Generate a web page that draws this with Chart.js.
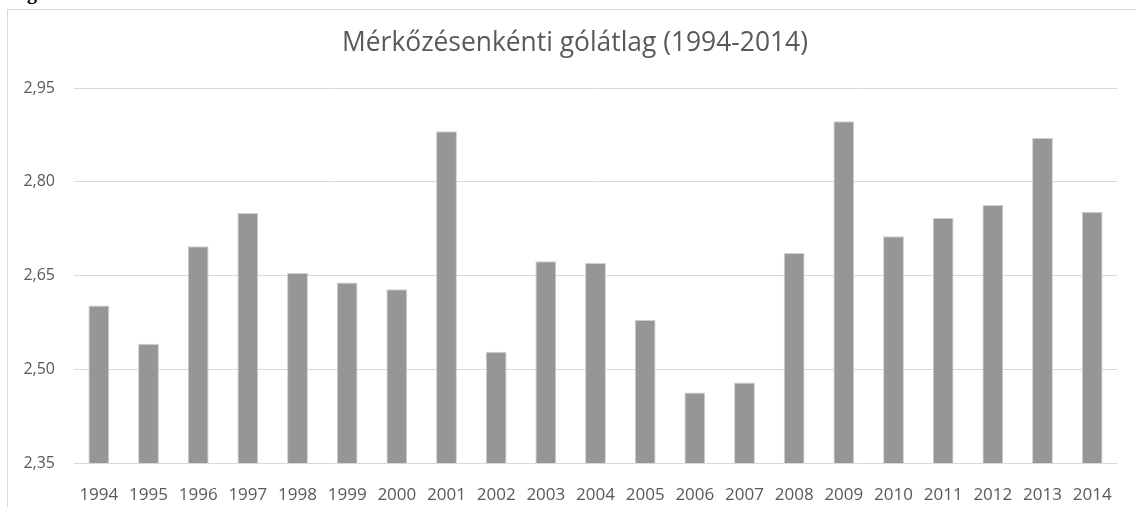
<!DOCTYPE html>
<html lang="hu">
<head>
<meta charset="utf-8">
<title>Mérkőzésenkénti gólátlag (1994-2014)</title>
<script src="https://cdn.jsdelivr.net/npm/chart.js@4/dist/chart.umd.min.js"></script>
<style>
    body { margin: 0; background: #fff; }
    .wrap { position: relative; width: 1136px; height: 507px; overflow: hidden; }
    .frame {
        position: absolute; left: 7px; top: 9px; right: -10px; bottom: -10px;
        border-left: 1px solid #d9d9d9; border-top: 1px solid #d9d9d9;
    }
    .cut {
        position: absolute; left: 27px; top: -19px;
        font: bold 20px 'Liberation Serif', serif; color: #000;
    }
    .chart-title {
        position: absolute; left: 275px; width: 600px; top: 28px;
        text-align: center; white-space: nowrap;
        font: 26.4px 'Open Sans', sans-serif; line-height: 26px; color: #595959;
    }
    canvas { position: absolute; left: 0; top: 0; }
</style>
</head>
<body>
<div class="wrap">
    <div class="frame"></div>
    <span class="cut">g</span>
    <canvas id="chart" width="1136" height="507"></canvas>
    <div class="chart-title" id="chart-title"></div>
</div>
<script>
const chartTitle = 'Mérkőzésenkénti gólátlag (1994-2014)';
const years = ['1994', '1995', '1996', '1997', '1998', '1999', '2000', '2001', '2002', '2003', '2004',
    '2005', '2006', '2007', '2008', '2009', '2010', '2011', '2012', '2013', '2014'];
const goalAverage = [2.602, 2.541, 2.697, 2.750, 2.654, 2.639, 2.628, 2.881, 2.528, 2.673, 2.670,
    2.579, 2.463, 2.479, 2.686, 2.897, 2.713, 2.742, 2.763, 2.870, 2.752];
const yMin = 2.35;
const yMax = 2.95;
const yStep = 0.15;

document.getElementById('chart-title').textContent = chartTitle;

Chart.defaults.font.family = "'Open Sans', sans-serif";
Chart.defaults.color = '#595959';

const ctx = document.getElementById('chart').getContext('2d');
new Chart(ctx, {
    type: 'bar',
    data: {
        labels: years,
        datasets: [{
            data: goalAverage,
            backgroundColor: '#969696',
            borderColor: '#cfcfcf',
            borderWidth: 1,
            borderSkipped: 'bottom',
            categoryPercentage: 1,
            barPercentage: 0.42
        }]
    },
    options: {
        responsive: false,
        animation: false,
        layout: { padding: { left: 0, right: 19, top: 88, bottom: 0 } },
        plugins: {
            legend: { display: false },
            tooltip: { enabled: false },
            title: { display: false }
        },
        scales: {
            x: {
                grid: { display: false },
                border: { display: false },
                ticks: { font: { size: 17 }, padding: 14, maxRotation: 0, autoSkip: false },
                afterFit: (axis) => { axis.height = 44; }
            },
            y: {
                min: yMin,
                max: yMax,
                border: { display: false },
                grid: { color: '#d9d9d9', lineWidth: 1, drawTicks: false },
                ticks: {
                    stepSize: yStep,
                    padding: 19,
                    font: { size: 16 },
                    callback: (v) => v.toFixed(2).replace('.', ',')
                },
                afterFit: (axis) => { axis.width = 74; }
            }
        }
    }
});
</script>
</body>
</html>
